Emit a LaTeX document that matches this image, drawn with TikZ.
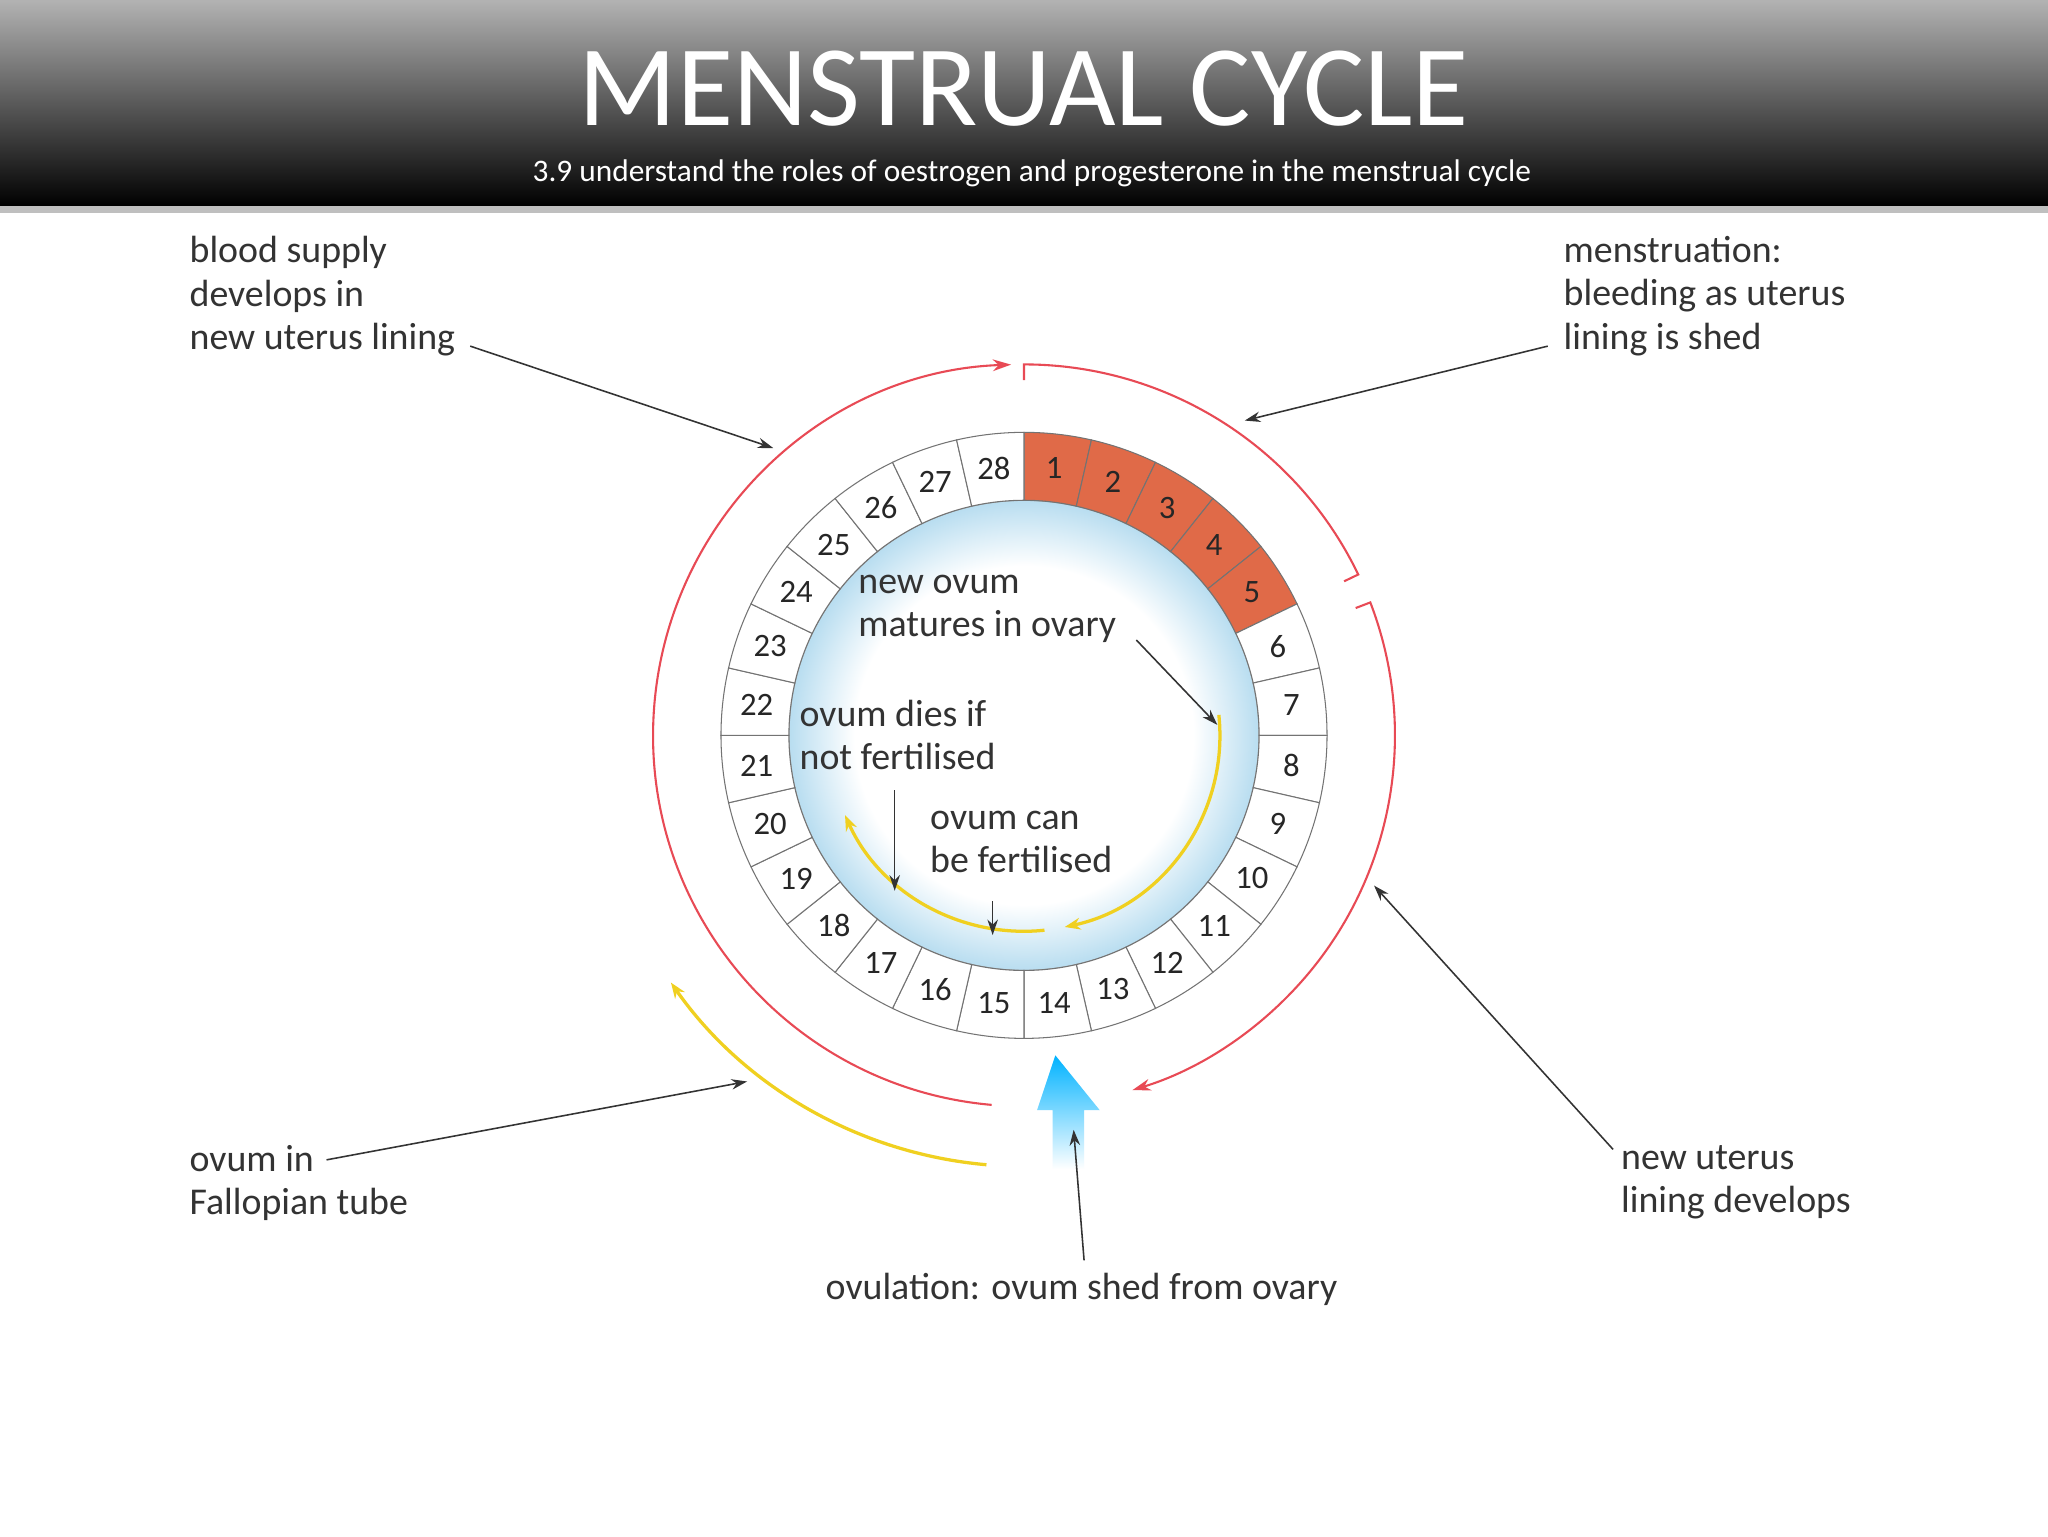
\documentclass[tikz,border=0pt]{standalone}
\usepackage{fontspec}
\setmainfont{Carlito}
\usetikzlibrary{arrows.meta}
\definecolor{redarc}{HTML}{E84A55}
\definecolor{dayc}{HTML}{E06A48}
\definecolor{lb}{HTML}{B8DDF0}
\definecolor{yel}{HTML}{F0D020}
\pgfdeclareradialshading{ringsh}{\pgfpoint{0bp}{0bp}}{color(0bp)=(white); color(18bp)=(white); color(25bp)=(lb); color(50bp)=(lb)}
\tikzset{
  lbl/.style={font=\fontsize{29}{33}\selectfont, text=black!80, align=left, inner sep=0pt},
  num/.style={font=\fontsize{25}{25}\selectfont, text=black!85, inner sep=0pt},
  ptr/.style={draw=black!80, line width=1.2pt, -{Stealth[length=12pt,width=8pt]}},
  redline/.style={draw=redarc, line width=1.6pt},
  yline/.style={draw=yel, line width=2.5pt},
}
\begin{document}
\begin{tikzpicture}[x=1pt,y=1pt]
\useasboundingbox (0,0) rectangle (1568,-1176);
\fill[white] (0,0) rectangle (1568,-1176);
% header
\shade[top color=black!30, bottom color=black] (0,0) rectangle (1568,-158);
\fill[black!25] (0,-158) rectangle (1568,-163);
\node[text=white, font=\fontsize{88}{88}\selectfont, inner sep=0pt] (title) at (784,-68) {MENSTRUAL CYCLE};
\node[text=white, font=\fontsize{24}{24}\selectfont, inner sep=0pt] (sub) at (790,-133) {3.9 understand the roles of oestrogen and progesterone in the menstrual cycle};
\coordinate (C) at (784,-563);
% inner disc
\shade[shading=ringsh] (C) circle (180);
\draw[black!40, line width=1pt] (C) circle (180);
% day ring
\foreach \i in {1,...,28}{
  \pgfmathsetmacro\aa{90-(\i-1)*360/28}
  \pgfmathsetmacro\ab{\aa-360/28}
  \pgfmathsetmacro\am{\aa-180/28}
  \ifnum\i<6 \def\fc{dayc}\else\def\fc{white}\fi
  \draw[black!55, line width=0.8pt, fill=\fc] ([shift={(\aa:180)}]C) arc(\aa:\ab:180) -- ([shift={(\ab:232)}]C) arc(\ab:\aa:232) -- cycle;
  \node[num] (d\i) at ([shift={(\am:206)}]C) {\i};
}
% red arcs
\draw[redline, -{Stealth[length=14pt,width=9pt]}] ([shift={(265:284)}]C) arc(265:92:284);
\draw[redline] ([shift={(90:272)}]C) -- ([shift={(90:284)}]C) arc(90:25.7:284) -- ([shift={(25.7:272)}]C);
\draw[redline, -{Stealth[length=14pt,width=9pt]}] ([shift={(21:272)}]C) -- ([shift={(21:284)}]C) arc(21:-73:284);
% yellow arcs
\draw[yline, -{Stealth[length=12pt,width=9pt]}] ([shift={(6:150)}]C) arc(6:-78:150);
\draw[yline, -{Stealth[length=12pt,width=9pt]}] ([shift={(-84:150)}]C) arc(-84:-156:150);
\draw[yline, -{Stealth[length=12pt,width=9pt]}] ([shift={(-95:330)}]C) arc(-95:-145:330);
% blue arrow
\shade[top color=cyan!70!blue, bottom color=white] (808,-808) -- (842,-850) -- (830,-850) -- (830,-895) -- (806,-895) -- (806,-850) -- (794,-850) -- cycle;
% labels
\node[lbl, anchor=north west] (blood) at (145,-181) {blood supply\\develops in\\new uterus lining};
\node[lbl, anchor=north west] (mens) at (1197,-181) {menstruation:\\bleeding as uterus\\lining is shed};
\node[lbl, anchor=north west] (newl) at (1241,-877) {new uterus\\lining develops};
\node[lbl, anchor=north west] (fall) at (145,-877) {ovum in\\Fallopian tube};
\node[lbl] (ovul) at (828,-987) {ovulation: ovum shed from ovary};
\node[lbl, anchor=north west] (mat) at (657,-440) {new ovum\\matures in ovary};
\node[lbl, anchor=north west] (dies) at (612,-536) {ovum dies if\\not fertilised};
\node[lbl, anchor=north west] (can) at (712,-621) {ovum can\\be fertilised};
% pointers
\coordinate (p1) at (592,-343);
\coordinate (p2) at (953,-322);
\coordinate (p3) at (1052,-678);
\coordinate (p4) at (572,-828);
\coordinate (p5) at (822,-865);
\coordinate (p6) at (932,-555);
\coordinate (p7) at (685,-682);
\coordinate (p8) at (760,-716);
\draw[ptr] (360,-265) -- (p1);
\draw[ptr] (1185,-265) -- (p2);
\draw[ptr] (1235,-880) -- (p3);
\draw[ptr] (250,-888) -- (p4);
\draw[ptr] (830,-965) -- (p5);
\draw[ptr] (870,-490) -- (p6);
\draw[ptr] (685,-605) -- (p7);
\draw[ptr] (760,-690) -- (p8);
\end{tikzpicture}
\end{document}
